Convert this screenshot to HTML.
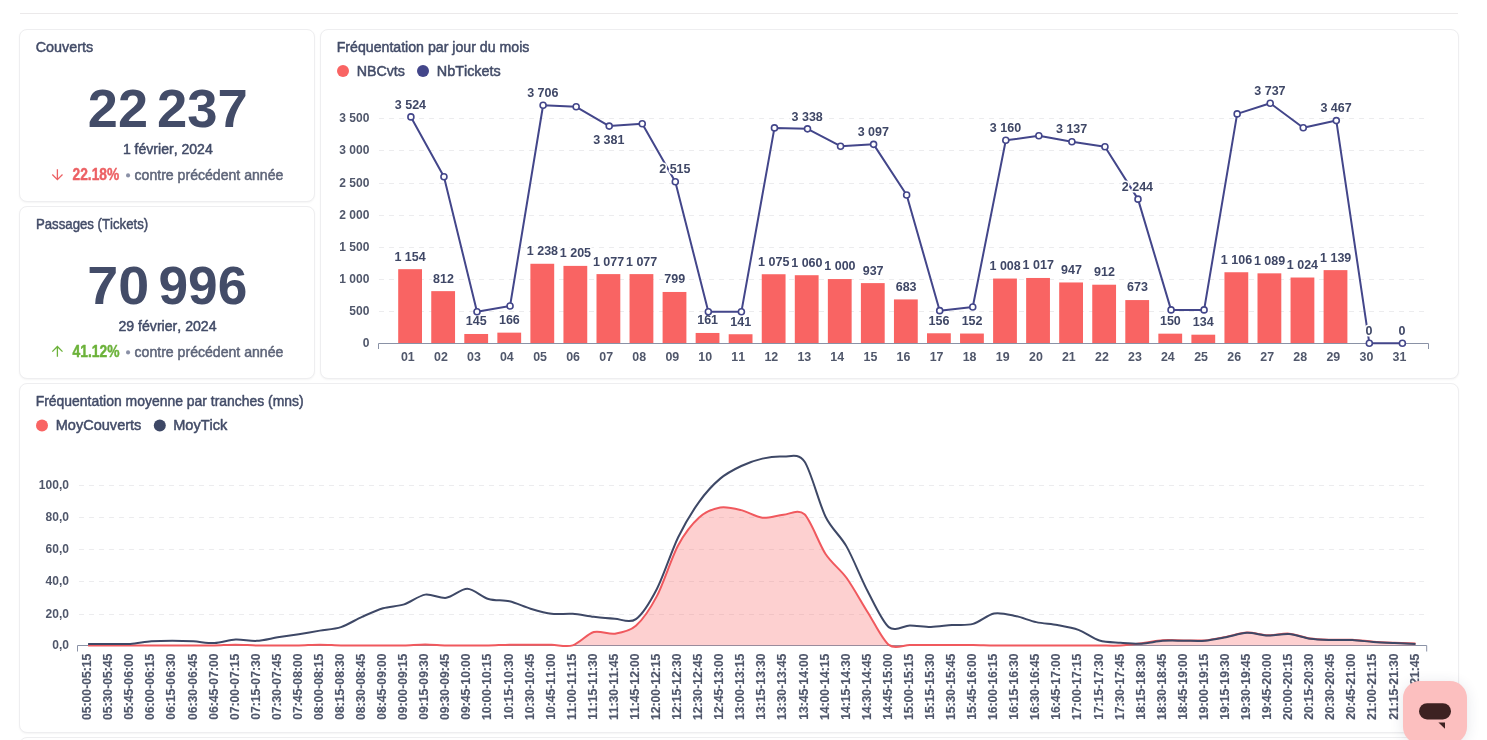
<!DOCTYPE html>
<html><head><meta charset="utf-8">
<style>
html,body{margin:0;padding:0;}
body{width:1487px;height:740px;overflow:hidden;background:#fff;position:relative;font-family:"Liberation Sans",sans-serif;}
.hdr{position:absolute;left:20px;top:13px;width:1438px;height:1px;background:#EBE9EA;}
.card{position:absolute;box-sizing:border-box;background:#fff;border:1px solid #EEEEF0;border-radius:8px;box-shadow:0 1px 2px rgba(0,0,0,0.045);}
svg{position:absolute;left:0;top:0;will-change:transform;}
svg text{font-family:"Liberation Sans",sans-serif;font-kerning:none;}
.dl{stroke:#fff;stroke-width:3px;paint-order:stroke;stroke-linejoin:round;}
.chat{position:absolute;left:1403px;top:681px;width:64px;height:63px;border-radius:17px;background:#FCBFBF;box-shadow:0 2px 14px rgba(40,50,80,0.12);}
</style></head><body>
<div class="hdr"></div>
<div class="card" style="left:19px;top:29px;width:296px;height:173px;"></div>
<div class="card" style="left:19px;top:206px;width:296px;height:173px;"></div>
<div class="card" style="left:320px;top:29px;width:1139px;height:350px;"></div>
<div class="card" style="left:19px;top:383px;width:1440px;height:350px;"></div>
<div class="card" style="left:19px;top:737px;width:1440px;height:350px;"></div>
<svg width="1487" height="740" viewBox="0 0 1487 740">
<text x="87.83" y="126.90" font-size="53.9" textLength="60.14" lengthAdjust="spacingAndGlyphs" font-weight="bold" fill="#434C68">22</text>
<text x="156.91" y="126.90" font-size="53.9" textLength="90.78" lengthAdjust="spacingAndGlyphs" font-weight="bold" fill="#434C68">237</text>
<text x="122.88" y="153.60" font-size="14.2" textLength="89.88" lengthAdjust="spacingAndGlyphs" font-weight="normal" fill="#434C68" stroke="#434C68" stroke-width="0.5" stroke-linejoin="round">1 février, 2024</text>
<path d="M57.4,169.3 V179.5 M52.3,174.5 L57.4,179.6 L62.5,174.5" fill="none" stroke="#EC6164" stroke-width="1.3"/>
<text x="72.55" y="179.80" font-size="15.8" textLength="46.69" lengthAdjust="spacingAndGlyphs" font-weight="bold" fill="#EC6164" stroke="#EC6164" stroke-width="0.45" stroke-linejoin="round">22.18%</text>
<circle cx="128.05" cy="175.4" r="2.05" fill="#8A90A6"/>
<text x="134.55" y="179.80" font-size="14.2" textLength="148.82" lengthAdjust="spacingAndGlyphs" font-weight="normal" fill="#5E6579" stroke="#5E6579" stroke-width="0.5" stroke-linejoin="round">contre précédent année</text>
<text x="87.31" y="303.90" font-size="53.9" textLength="61.87" lengthAdjust="spacingAndGlyphs" font-weight="bold" fill="#434C68">70</text>
<text x="158.46" y="303.90" font-size="53.9" textLength="88.77" lengthAdjust="spacingAndGlyphs" font-weight="bold" fill="#434C68">996</text>
<text x="118.44" y="330.60" font-size="14.2" textLength="98.12" lengthAdjust="spacingAndGlyphs" font-weight="normal" fill="#434C68" stroke="#434C68" stroke-width="0.5" stroke-linejoin="round">29 février, 2024</text>
<path d="M57.4,356.8 V346.6 M52.3,351.6 L57.4,346.5 L62.5,351.6" fill="none" stroke="#6CB23A" stroke-width="1.3"/>
<text x="72.52" y="356.80" font-size="15.8" textLength="46.92" lengthAdjust="spacingAndGlyphs" font-weight="bold" fill="#6CB23A" stroke="#6CB23A" stroke-width="0.45" stroke-linejoin="round">41.12%</text>
<circle cx="128.05" cy="352.4" r="2.05" fill="#8A90A6"/>
<text x="134.55" y="356.80" font-size="14.2" textLength="148.82" lengthAdjust="spacingAndGlyphs" font-weight="normal" fill="#5E6579" stroke="#5E6579" stroke-width="0.5" stroke-linejoin="round">contre précédent année</text>
<text x="35.72" y="51.60" font-size="15.1" textLength="57.45" lengthAdjust="spacingAndGlyphs" font-weight="normal" fill="#434C68" stroke="#434C68" stroke-width="0.5" stroke-linejoin="round">Couverts</text>
<text x="35.97" y="228.60" font-size="15.1" textLength="112.20" lengthAdjust="spacingAndGlyphs" font-weight="normal" fill="#434C68" stroke="#434C68" stroke-width="0.5" stroke-linejoin="round">Passages (Tickets)</text>
<text x="336.69" y="52.00" font-size="15.1" textLength="192.67" lengthAdjust="spacingAndGlyphs" font-weight="normal" fill="#434C68" stroke="#434C68" stroke-width="0.5" stroke-linejoin="round">Fréquentation par jour du mois</text>
<text x="35.71" y="406.00" font-size="15.1" textLength="268.01" lengthAdjust="spacingAndGlyphs" font-weight="normal" fill="#434C68" stroke="#434C68" stroke-width="0.5" stroke-linejoin="round">Fréquentation moyenne par tranches (mns)</text>
<circle cx="343" cy="70.9" r="6" fill="#F96463"/>
<text x="356.68" y="76.40" font-size="14.6" textLength="48.28" lengthAdjust="spacingAndGlyphs" font-weight="normal" fill="#434C68" stroke="#434C68" stroke-width="0.5" stroke-linejoin="round">NBCvts</text>
<circle cx="423" cy="70.9" r="6" fill="#43468A"/>
<text x="436.77" y="76.40" font-size="14.6" textLength="64.00" lengthAdjust="spacingAndGlyphs" font-weight="normal" fill="#434C68" stroke="#434C68" stroke-width="0.5" stroke-linejoin="round">NbTickets</text>
<circle cx="42" cy="425.4" r="6" fill="#F96463"/>
<text x="55.76" y="430.30" font-size="14.6" textLength="85.62" lengthAdjust="spacingAndGlyphs" font-weight="normal" fill="#434C68" stroke="#434C68" stroke-width="0.5" stroke-linejoin="round">MoyCouverts</text>
<circle cx="159.8" cy="425.4" r="6" fill="#3E4866"/>
<text x="173.15" y="430.30" font-size="14.6" textLength="54.27" lengthAdjust="spacingAndGlyphs" font-weight="normal" fill="#434C68" stroke="#434C68" stroke-width="0.5" stroke-linejoin="round">MoyTick</text>
<line x1="379" x2="1425" y1="311.5" y2="311.5" stroke="#ECECEE" stroke-width="1" stroke-dasharray="5 5"/>
<line x1="379" x2="1425" y1="279.5" y2="279.5" stroke="#ECECEE" stroke-width="1" stroke-dasharray="5 5"/>
<line x1="379" x2="1425" y1="247.5" y2="247.5" stroke="#ECECEE" stroke-width="1" stroke-dasharray="5 5"/>
<line x1="379" x2="1425" y1="215.5" y2="215.5" stroke="#ECECEE" stroke-width="1" stroke-dasharray="5 5"/>
<line x1="379" x2="1425" y1="183.5" y2="183.5" stroke="#ECECEE" stroke-width="1" stroke-dasharray="5 5"/>
<line x1="379" x2="1425" y1="150.5" y2="150.5" stroke="#ECECEE" stroke-width="1" stroke-dasharray="5 5"/>
<line x1="379" x2="1425" y1="118.5" y2="118.5" stroke="#ECECEE" stroke-width="1" stroke-dasharray="5 5"/>
<text x="362.72" y="346.80" font-size="12" font-weight="bold" fill="#50576B">0</text>
<text x="349.37" y="314.80" font-size="12" font-weight="bold" fill="#50576B">500</text>
<text x="339.36" y="282.80" font-size="12" font-weight="bold" fill="#50576B">1 000</text>
<text x="339.36" y="250.80" font-size="12" font-weight="bold" fill="#50576B">1 500</text>
<text x="339.36" y="218.80" font-size="12" font-weight="bold" fill="#50576B">2 000</text>
<text x="339.36" y="186.80" font-size="12" font-weight="bold" fill="#50576B">2 500</text>
<text x="339.36" y="153.80" font-size="12" font-weight="bold" fill="#50576B">3 000</text>
<text x="339.36" y="121.80" font-size="12" font-weight="bold" fill="#50576B">3 500</text>
<rect x="398.2" y="269.17" width="23.8" height="73.83" fill="#F96463"/>
<rect x="431.25" y="291.14" width="23.8" height="51.86" fill="#F96463"/>
<rect x="464.3" y="333.99" width="23.8" height="9.01" fill="#F96463"/>
<rect x="497.35" y="332.64" width="23.8" height="10.36" fill="#F96463"/>
<rect x="530.4" y="263.77" width="23.8" height="79.23" fill="#F96463"/>
<rect x="563.45" y="265.89" width="23.8" height="77.11" fill="#F96463"/>
<rect x="596.5" y="274.11" width="23.8" height="68.89" fill="#F96463"/>
<rect x="629.55" y="274.11" width="23.8" height="68.89" fill="#F96463"/>
<rect x="662.6" y="291.97" width="23.8" height="51.03" fill="#F96463"/>
<rect x="695.65" y="332.96" width="23.8" height="10.04" fill="#F96463"/>
<rect x="728.7" y="334.24" width="23.8" height="8.76" fill="#F96463"/>
<rect x="761.75" y="274.24" width="23.8" height="68.76" fill="#F96463"/>
<rect x="794.8" y="275.21" width="23.8" height="67.79" fill="#F96463"/>
<rect x="827.85" y="279.06" width="23.8" height="63.94" fill="#F96463"/>
<rect x="860.9" y="283.11" width="23.8" height="59.89" fill="#F96463"/>
<rect x="893.95" y="299.42" width="23.8" height="43.58" fill="#F96463"/>
<rect x="927" y="333.28" width="23.8" height="9.72" fill="#F96463"/>
<rect x="960.05" y="333.54" width="23.8" height="9.46" fill="#F96463"/>
<rect x="993.1" y="278.55" width="23.8" height="64.45" fill="#F96463"/>
<rect x="1026.15" y="277.97" width="23.8" height="65.03" fill="#F96463"/>
<rect x="1059.2" y="282.46" width="23.8" height="60.54" fill="#F96463"/>
<rect x="1092.25" y="284.71" width="23.8" height="58.29" fill="#F96463"/>
<rect x="1125.3" y="300.07" width="23.8" height="42.93" fill="#F96463"/>
<rect x="1158.35" y="333.66" width="23.8" height="9.34" fill="#F96463"/>
<rect x="1191.4" y="334.69" width="23.8" height="8.31" fill="#F96463"/>
<rect x="1224.45" y="272.25" width="23.8" height="70.75" fill="#F96463"/>
<rect x="1257.5" y="273.34" width="23.8" height="69.66" fill="#F96463"/>
<rect x="1290.55" y="277.52" width="23.8" height="65.48" fill="#F96463"/>
<rect x="1323.6" y="270.13" width="23.8" height="72.87" fill="#F96463"/>
<path d="M378.5,349 V343.5 H1428.5 V349" fill="none" stroke="#8A92A6" stroke-width="1"/>
<text x="400.93" y="360.80" font-size="12.4" font-weight="bold" fill="#50576B">01</text>
<text x="434.06" y="360.80" font-size="12.4" font-weight="bold" fill="#50576B">02</text>
<text x="467.08" y="360.80" font-size="12.4" font-weight="bold" fill="#50576B">03</text>
<text x="499.94" y="360.80" font-size="12.4" font-weight="bold" fill="#50576B">04</text>
<text x="533.13" y="360.80" font-size="12.4" font-weight="bold" fill="#50576B">05</text>
<text x="566.23" y="360.80" font-size="12.4" font-weight="bold" fill="#50576B">06</text>
<text x="599.33" y="360.80" font-size="12.4" font-weight="bold" fill="#50576B">07</text>
<text x="632.30" y="360.80" font-size="12.4" font-weight="bold" fill="#50576B">08</text>
<text x="665.39" y="360.80" font-size="12.4" font-weight="bold" fill="#50576B">09</text>
<text x="698.32" y="360.80" font-size="12.4" font-weight="bold" fill="#50576B">10</text>
<text x="731.29" y="360.80" font-size="12.4" font-weight="bold" fill="#50576B">11</text>
<text x="764.41" y="360.80" font-size="12.4" font-weight="bold" fill="#50576B">12</text>
<text x="797.44" y="360.80" font-size="12.4" font-weight="bold" fill="#50576B">13</text>
<text x="830.30" y="360.80" font-size="12.4" font-weight="bold" fill="#50576B">14</text>
<text x="863.49" y="360.80" font-size="12.4" font-weight="bold" fill="#50576B">15</text>
<text x="896.59" y="360.80" font-size="12.4" font-weight="bold" fill="#50576B">16</text>
<text x="929.69" y="360.80" font-size="12.4" font-weight="bold" fill="#50576B">17</text>
<text x="962.65" y="360.80" font-size="12.4" font-weight="bold" fill="#50576B">18</text>
<text x="995.74" y="360.80" font-size="12.4" font-weight="bold" fill="#50576B">19</text>
<text x="1028.99" y="360.80" font-size="12.4" font-weight="bold" fill="#50576B">20</text>
<text x="1061.96" y="360.80" font-size="12.4" font-weight="bold" fill="#50576B">21</text>
<text x="1095.09" y="360.80" font-size="12.4" font-weight="bold" fill="#50576B">22</text>
<text x="1128.11" y="360.80" font-size="12.4" font-weight="bold" fill="#50576B">23</text>
<text x="1160.97" y="360.80" font-size="12.4" font-weight="bold" fill="#50576B">24</text>
<text x="1194.16" y="360.80" font-size="12.4" font-weight="bold" fill="#50576B">25</text>
<text x="1227.26" y="360.80" font-size="12.4" font-weight="bold" fill="#50576B">26</text>
<text x="1260.36" y="360.80" font-size="12.4" font-weight="bold" fill="#50576B">27</text>
<text x="1293.33" y="360.80" font-size="12.4" font-weight="bold" fill="#50576B">28</text>
<text x="1326.42" y="360.80" font-size="12.4" font-weight="bold" fill="#50576B">29</text>
<text x="1359.57" y="360.80" font-size="12.4" font-weight="bold" fill="#50576B">30</text>
<text x="1392.53" y="360.80" font-size="12.4" font-weight="bold" fill="#50576B">31</text>
<text x="394.40" y="260.57" font-size="12.5" font-weight="bold" fill="#3F4766" class="dl">1 154</text>
<text x="433.07" y="282.54" font-size="12.5" font-weight="bold" fill="#3F4766" class="dl">812</text>
<text x="465.85" y="325.39" font-size="12.5" font-weight="bold" fill="#3F4766" class="dl">145</text>
<text x="498.95" y="324.04" font-size="12.5" font-weight="bold" fill="#3F4766" class="dl">166</text>
<text x="526.76" y="255.17" font-size="12.5" font-weight="bold" fill="#3F4766" class="dl">1 238</text>
<text x="559.79" y="257.29" font-size="12.5" font-weight="bold" fill="#3F4766" class="dl">1 205</text>
<text x="592.94" y="265.51" font-size="12.5" font-weight="bold" fill="#3F4766" class="dl">1 077</text>
<text x="625.99" y="265.51" font-size="12.5" font-weight="bold" fill="#3F4766" class="dl">1 077</text>
<text x="664.34" y="283.37" font-size="12.5" font-weight="bold" fill="#3F4766" class="dl">799</text>
<text x="697.20" y="324.36" font-size="12.5" font-weight="bold" fill="#3F4766" class="dl">161</text>
<text x="730.25" y="325.64" font-size="12.5" font-weight="bold" fill="#3F4766" class="dl">141</text>
<text x="758.09" y="265.64" font-size="12.5" font-weight="bold" fill="#3F4766" class="dl">1 075</text>
<text x="791.22" y="266.61" font-size="12.5" font-weight="bold" fill="#3F4766" class="dl">1 060</text>
<text x="824.27" y="270.46" font-size="12.5" font-weight="bold" fill="#3F4766" class="dl">1 000</text>
<text x="862.73" y="274.51" font-size="12.5" font-weight="bold" fill="#3F4766" class="dl">937</text>
<text x="895.72" y="290.82" font-size="12.5" font-weight="bold" fill="#3F4766" class="dl">683</text>
<text x="928.60" y="324.68" font-size="12.5" font-weight="bold" fill="#3F4766" class="dl">156</text>
<text x="961.68" y="324.94" font-size="12.5" font-weight="bold" fill="#3F4766" class="dl">152</text>
<text x="989.46" y="269.95" font-size="12.5" font-weight="bold" fill="#3F4766" class="dl">1 008</text>
<text x="1022.59" y="269.37" font-size="12.5" font-weight="bold" fill="#3F4766" class="dl">1 017</text>
<text x="1061.03" y="273.86" font-size="12.5" font-weight="bold" fill="#3F4766" class="dl">947</text>
<text x="1094.06" y="276.11" font-size="12.5" font-weight="bold" fill="#3F4766" class="dl">912</text>
<text x="1127.07" y="291.47" font-size="12.5" font-weight="bold" fill="#3F4766" class="dl">673</text>
<text x="1159.98" y="325.06" font-size="12.5" font-weight="bold" fill="#3F4766" class="dl">150</text>
<text x="1192.81" y="326.09" font-size="12.5" font-weight="bold" fill="#3F4766" class="dl">134</text>
<text x="1220.84" y="263.65" font-size="12.5" font-weight="bold" fill="#3F4766" class="dl">1 106</text>
<text x="1253.90" y="264.74" font-size="12.5" font-weight="bold" fill="#3F4766" class="dl">1 089</text>
<text x="1286.75" y="268.92" font-size="12.5" font-weight="bold" fill="#3F4766" class="dl">1 024</text>
<text x="1320.00" y="261.53" font-size="12.5" font-weight="bold" fill="#3F4766" class="dl">1 139</text>
<polyline points="410.9,116.92 443.95,176.79 477,311.69 510.05,305.98 543.1,105.23 576.15,106.77 609.2,126.1 642.25,123.79 675.3,181.74 708.35,311.69 741.4,311.69 774.45,127.9 807.5,128.87 840.55,146.21 873.6,144.35 906.65,195.03 939.7,310.67 972.75,307 1005.8,140.3 1038.85,135.8 1071.9,141.78 1104.95,146.79 1138,199.15 1171.05,309.9 1204.1,309.9 1237.15,113.9 1270.2,103.24 1303.25,127.77 1336.3,120.58 1369.35,343.3 1402.4,343.3" fill="none" stroke="#43468A" stroke-width="2" stroke-linejoin="round"/>
<circle cx="410.9" cy="116.92" r="3" fill="#fff" stroke="#43468A" stroke-width="1.6"/>
<circle cx="443.95" cy="176.79" r="3" fill="#fff" stroke="#43468A" stroke-width="1.6"/>
<circle cx="477" cy="311.69" r="3" fill="#fff" stroke="#43468A" stroke-width="1.6"/>
<circle cx="510.05" cy="305.98" r="3" fill="#fff" stroke="#43468A" stroke-width="1.6"/>
<circle cx="543.1" cy="105.23" r="3" fill="#fff" stroke="#43468A" stroke-width="1.6"/>
<circle cx="576.15" cy="106.77" r="3" fill="#fff" stroke="#43468A" stroke-width="1.6"/>
<circle cx="609.2" cy="126.1" r="3" fill="#fff" stroke="#43468A" stroke-width="1.6"/>
<circle cx="642.25" cy="123.79" r="3" fill="#fff" stroke="#43468A" stroke-width="1.6"/>
<circle cx="675.3" cy="181.74" r="3" fill="#fff" stroke="#43468A" stroke-width="1.6"/>
<circle cx="708.35" cy="311.69" r="3" fill="#fff" stroke="#43468A" stroke-width="1.6"/>
<circle cx="741.4" cy="311.69" r="3" fill="#fff" stroke="#43468A" stroke-width="1.6"/>
<circle cx="774.45" cy="127.9" r="3" fill="#fff" stroke="#43468A" stroke-width="1.6"/>
<circle cx="807.5" cy="128.87" r="3" fill="#fff" stroke="#43468A" stroke-width="1.6"/>
<circle cx="840.55" cy="146.21" r="3" fill="#fff" stroke="#43468A" stroke-width="1.6"/>
<circle cx="873.6" cy="144.35" r="3" fill="#fff" stroke="#43468A" stroke-width="1.6"/>
<circle cx="906.65" cy="195.03" r="3" fill="#fff" stroke="#43468A" stroke-width="1.6"/>
<circle cx="939.7" cy="310.67" r="3" fill="#fff" stroke="#43468A" stroke-width="1.6"/>
<circle cx="972.75" cy="307" r="3" fill="#fff" stroke="#43468A" stroke-width="1.6"/>
<circle cx="1005.8" cy="140.3" r="3" fill="#fff" stroke="#43468A" stroke-width="1.6"/>
<circle cx="1038.85" cy="135.8" r="3" fill="#fff" stroke="#43468A" stroke-width="1.6"/>
<circle cx="1071.9" cy="141.78" r="3" fill="#fff" stroke="#43468A" stroke-width="1.6"/>
<circle cx="1104.95" cy="146.79" r="3" fill="#fff" stroke="#43468A" stroke-width="1.6"/>
<circle cx="1138" cy="199.15" r="3" fill="#fff" stroke="#43468A" stroke-width="1.6"/>
<circle cx="1171.05" cy="309.9" r="3" fill="#fff" stroke="#43468A" stroke-width="1.6"/>
<circle cx="1204.1" cy="309.9" r="3" fill="#fff" stroke="#43468A" stroke-width="1.6"/>
<circle cx="1237.15" cy="113.9" r="3" fill="#fff" stroke="#43468A" stroke-width="1.6"/>
<circle cx="1270.2" cy="103.24" r="3" fill="#fff" stroke="#43468A" stroke-width="1.6"/>
<circle cx="1303.25" cy="127.77" r="3" fill="#fff" stroke="#43468A" stroke-width="1.6"/>
<circle cx="1336.3" cy="120.58" r="3" fill="#fff" stroke="#43468A" stroke-width="1.6"/>
<circle cx="1369.35" cy="343.3" r="3" fill="#fff" stroke="#43468A" stroke-width="1.6"/>
<circle cx="1402.4" cy="343.3" r="3" fill="#fff" stroke="#43468A" stroke-width="1.6"/>
<text x="394.75" y="108.62" font-size="12.5" font-weight="bold" fill="#3F4766" class="dl">3 524</text>
<text x="527.14" y="96.93" font-size="12.5" font-weight="bold" fill="#3F4766" class="dl">3 706</text>
<text x="593.19" y="143.70" font-size="12.5" font-weight="bold" fill="#3F4766" class="dl">3 381</text>
<text x="659.22" y="173.44" font-size="12.5" font-weight="bold" fill="#3F4766" class="dl">2 515</text>
<text x="791.51" y="120.57" font-size="12.5" font-weight="bold" fill="#3F4766" class="dl">3 338</text>
<text x="857.69" y="136.05" font-size="12.5" font-weight="bold" fill="#3F4766" class="dl">3 097</text>
<text x="989.87" y="132.00" font-size="12.5" font-weight="bold" fill="#3F4766" class="dl">3 160</text>
<text x="1055.99" y="133.48" font-size="12.5" font-weight="bold" fill="#3F4766" class="dl">3 137</text>
<text x="1121.78" y="190.85" font-size="12.5" font-weight="bold" fill="#3F4766" class="dl">2 244</text>
<text x="1254.29" y="94.94" font-size="12.5" font-weight="bold" fill="#3F4766" class="dl">3 737</text>
<text x="1320.39" y="112.28" font-size="12.5" font-weight="bold" fill="#3F4766" class="dl">3 467</text>
<text x="1365.48" y="335.00" font-size="12.5" font-weight="bold" fill="#3F4766" class="dl">0</text>
<text x="1398.53" y="335.00" font-size="12.5" font-weight="bold" fill="#3F4766" class="dl">0</text>
<line x1="79" x2="1425" y1="614.5" y2="614.5" stroke="#ECECEE" stroke-width="1" stroke-dasharray="5 5"/>
<line x1="79" x2="1425" y1="581.5" y2="581.5" stroke="#ECECEE" stroke-width="1" stroke-dasharray="5 5"/>
<line x1="79" x2="1425" y1="549.5" y2="549.5" stroke="#ECECEE" stroke-width="1" stroke-dasharray="5 5"/>
<line x1="79" x2="1425" y1="517.5" y2="517.5" stroke="#ECECEE" stroke-width="1" stroke-dasharray="5 5"/>
<line x1="79" x2="1425" y1="485.5" y2="485.5" stroke="#ECECEE" stroke-width="1" stroke-dasharray="5 5"/>
<text x="52.21" y="648.80" font-size="12" font-weight="bold" fill="#50576B">0,0</text>
<text x="45.54" y="617.80" font-size="12" font-weight="bold" fill="#50576B">20,0</text>
<text x="45.54" y="584.80" font-size="12" font-weight="bold" fill="#50576B">40,0</text>
<text x="45.54" y="552.80" font-size="12" font-weight="bold" fill="#50576B">60,0</text>
<text x="45.54" y="520.80" font-size="12" font-weight="bold" fill="#50576B">80,0</text>
<text x="38.86" y="488.80" font-size="12" font-weight="bold" fill="#50576B">100,0</text>
<path d="M77.5,651.5 V645.5 H1426.7 V651.5" fill="none" stroke="#8A92A6" stroke-width="1"/>
<path d="M88.1,645.5 Q104.96,645.5 109.17,645.5 C115.49,645.5 123.92,645.5 130.24,645.5 S144.99,645.5 151.31,645.5 S166.06,645.5 172.38,645.5 S187.13,645.5 193.45,645.5 S208.2,645.62 214.52,645.5 S229.27,644.7 235.59,644.7 S250.34,645.38 256.66,645.5 S271.41,645.5 277.73,645.5 S292.48,645.62 298.8,645.5 S313.55,644.7 319.87,644.7 S334.62,645.38 340.94,645.5 S355.69,645.5 362.01,645.5 S376.76,645.5 383.08,645.5 S397.83,645.64 404.15,645.5 S418.9,644.54 425.22,644.54 S439.97,645.36 446.29,645.5 S461.04,645.5 467.36,645.5 S482.11,645.62 488.43,645.5 S503.18,644.8 509.5,644.7 S524.25,644.84 530.57,644.86 S545.32,644.79 551.64,644.86 S566.39,647.26 572.71,645.34 S587.46,633.81 593.78,632.06 S608.53,634.6 614.85,633.66 S629.6,631.48 635.92,625.82 S650.67,607.95 656.99,595.9 S671.74,557.26 678.06,545.5 S692.81,523.19 699.13,517.5 S713.88,508.68 720.2,507.58 S734.95,508.63 741.27,510.14 S756.02,516.96 762.34,517.66 S777.09,515.28 783.41,514.78 S798.16,508.42 804.48,514.3 S819.23,544.43 825.55,553.98 S840.3,569.24 846.62,577.98 S861.37,602.19 867.69,612.22 S882.44,639.94 888.76,644.86 S903.51,645 909.83,645.02 S924.58,645.02 930.9,645.02 S945.65,645.02 951.97,645.02 S966.72,644.95 973.04,645.02 S987.79,645.43 994.11,645.5 S1008.86,645.5 1015.18,645.5 S1029.93,645.5 1036.25,645.5 S1051,645.5 1057.32,645.5 S1072.07,645.5 1078.39,645.5 S1093.14,645.5 1099.46,645.5 S1114.21,645.84 1120.53,645.5 S1135.28,644.05 1141.6,643.26 S1156.35,640.65 1162.67,640.22 S1177.42,640.36 1183.74,640.38 S1198.49,640.91 1204.81,640.38 S1219.56,638.04 1225.88,636.86 S1240.63,632.78 1246.95,632.54 S1261.7,635.09 1268.02,635.26 S1282.77,633.17 1289.09,633.66 S1303.84,637.63 1310.16,638.54 S1324.91,639.56 1331.23,639.74 S1345.98,639.45 1352.3,639.74 S1367.05,641.2 1373.37,641.66 S1388.12,642.49 1394.44,642.78 Q1398.65,642.97 1415.51,643.58 L1415.51,645.5 L88.1,645.5 Z" fill="rgba(249,100,99,0.30)"/>
<path d="M88.1,645.5 Q104.96,645.5 109.17,645.5 C115.49,645.5 123.92,645.5 130.24,645.5 S144.99,645.5 151.31,645.5 S166.06,645.5 172.38,645.5 S187.13,645.5 193.45,645.5 S208.2,645.62 214.52,645.5 S229.27,644.7 235.59,644.7 S250.34,645.38 256.66,645.5 S271.41,645.5 277.73,645.5 S292.48,645.62 298.8,645.5 S313.55,644.7 319.87,644.7 S334.62,645.38 340.94,645.5 S355.69,645.5 362.01,645.5 S376.76,645.5 383.08,645.5 S397.83,645.64 404.15,645.5 S418.9,644.54 425.22,644.54 S439.97,645.36 446.29,645.5 S461.04,645.5 467.36,645.5 S482.11,645.62 488.43,645.5 S503.18,644.8 509.5,644.7 S524.25,644.84 530.57,644.86 S545.32,644.79 551.64,644.86 S566.39,647.26 572.71,645.34 S587.46,633.81 593.78,632.06 S608.53,634.6 614.85,633.66 S629.6,631.48 635.92,625.82 S650.67,607.95 656.99,595.9 S671.74,557.26 678.06,545.5 S692.81,523.19 699.13,517.5 S713.88,508.68 720.2,507.58 S734.95,508.63 741.27,510.14 S756.02,516.96 762.34,517.66 S777.09,515.28 783.41,514.78 S798.16,508.42 804.48,514.3 S819.23,544.43 825.55,553.98 S840.3,569.24 846.62,577.98 S861.37,602.19 867.69,612.22 S882.44,639.94 888.76,644.86 S903.51,645 909.83,645.02 S924.58,645.02 930.9,645.02 S945.65,645.02 951.97,645.02 S966.72,644.95 973.04,645.02 S987.79,645.43 994.11,645.5 S1008.86,645.5 1015.18,645.5 S1029.93,645.5 1036.25,645.5 S1051,645.5 1057.32,645.5 S1072.07,645.5 1078.39,645.5 S1093.14,645.5 1099.46,645.5 S1114.21,645.84 1120.53,645.5 S1135.28,644.05 1141.6,643.26 S1156.35,640.65 1162.67,640.22 S1177.42,640.36 1183.74,640.38 S1198.49,640.91 1204.81,640.38 S1219.56,638.04 1225.88,636.86 S1240.63,632.78 1246.95,632.54 S1261.7,635.09 1268.02,635.26 S1282.77,633.17 1289.09,633.66 S1303.84,637.63 1310.16,638.54 S1324.91,639.56 1331.23,639.74 S1345.98,639.45 1352.3,639.74 S1367.05,641.2 1373.37,641.66 S1388.12,642.49 1394.44,642.78 Q1398.65,642.97 1415.51,643.58" fill="none" stroke="#F0595E" stroke-width="2" stroke-linejoin="round"/>
<path d="M88.1,643.9 Q104.96,643.9 109.17,643.9 C115.49,643.9 123.92,644.28 130.24,643.9 S144.99,641.82 151.31,641.34 S166.06,640.7 172.38,640.7 S187.13,640.98 193.45,641.34 S208.2,643.36 214.52,643.1 S229.27,639.92 235.59,639.58 S250.34,641.2 256.66,640.86 S271.41,638.35 277.73,637.34 S292.48,635.15 298.8,634.14 S313.55,631.68 319.87,630.62 S334.62,629.16 340.94,627.1 S355.69,619.69 362.01,616.86 S376.76,610.09 383.08,608.22 S397.83,606.42 404.15,604.38 S418.9,595.6 425.22,594.62 S439.97,598.68 446.29,597.82 S461.04,588.69 467.36,588.86 S482.11,597.07 488.43,598.94 S503.18,599.88 509.5,601.34 S524.25,606.83 530.57,608.7 S545.32,613.05 551.64,613.82 S566.39,613.36 572.71,613.82 S587.46,616.12 593.78,616.86 S608.53,618.44 614.85,618.78 S629.6,623.61 635.92,619.1 S650.67,600.94 656.99,588.7 S671.74,550.53 678.06,537.5 S692.81,510.65 699.13,501.82 S713.88,484 720.2,478.62 S734.95,468.98 741.27,465.98 S756.02,460.04 762.34,458.62 S777.09,456.11 783.41,456.54 S798.16,452.48 804.48,461.5 S819.23,503.93 825.55,516.7 S840.3,535.44 846.62,546.62 S861.37,579.19 867.69,591.26 S882.44,621.96 888.76,627.1 S903.51,625.52 909.83,625.5 S924.58,627.01 930.9,626.94 S945.65,625.48 951.97,625.02 S966.72,625.63 973.04,623.9 S987.79,614.7 994.11,613.5 S1008.86,614.6 1015.18,615.9 S1029.93,620.77 1036.25,622.14 S1051,623.87 1057.32,625.02 S1072.07,627.49 1078.39,629.82 S1093.14,638.6 1099.46,640.54 S1114.21,642.3 1120.53,642.78 S1135.28,644.03 1141.6,643.74 S1156.35,641.32 1162.67,640.86 S1177.42,640.72 1183.74,640.7 S1198.49,641.23 1204.81,640.7 S1219.56,638.36 1225.88,637.18 S1240.63,633.1 1246.95,632.86 S1261.7,635.41 1268.02,635.58 S1282.77,633.49 1289.09,633.98 S1303.84,637.95 1310.16,638.86 S1324.91,639.88 1331.23,640.06 S1345.98,639.77 1352.3,640.06 S1367.05,641.52 1373.37,641.98 S1388.12,642.81 1394.44,643.1 Q1398.65,643.29 1415.51,643.9" fill="none" stroke="#3E4866" stroke-width="2" stroke-linejoin="round"/>
<text transform="translate(91.16,720.03) rotate(-90)" x="0" y="0" font-size="12.2" font-weight="bold" fill="#50576B" stroke="#50576B" stroke-width="0.15">05:00-05:15</text>
<text transform="translate(112.23,720.03) rotate(-90)" x="0" y="0" font-size="12.2" font-weight="bold" fill="#50576B" stroke="#50576B" stroke-width="0.15">05:30-05:45</text>
<text transform="translate(133.30,719.87) rotate(-90)" x="0" y="0" font-size="12.2" font-weight="bold" fill="#50576B" stroke="#50576B" stroke-width="0.15">05:45-06:00</text>
<text transform="translate(154.37,720.03) rotate(-90)" x="0" y="0" font-size="12.2" font-weight="bold" fill="#50576B" stroke="#50576B" stroke-width="0.15">06:00-06:15</text>
<text transform="translate(175.44,719.87) rotate(-90)" x="0" y="0" font-size="12.2" font-weight="bold" fill="#50576B" stroke="#50576B" stroke-width="0.15">06:15-06:30</text>
<text transform="translate(196.51,720.03) rotate(-90)" x="0" y="0" font-size="12.2" font-weight="bold" fill="#50576B" stroke="#50576B" stroke-width="0.15">06:30-06:45</text>
<text transform="translate(217.58,719.87) rotate(-90)" x="0" y="0" font-size="12.2" font-weight="bold" fill="#50576B" stroke="#50576B" stroke-width="0.15">06:45-07:00</text>
<text transform="translate(238.65,720.03) rotate(-90)" x="0" y="0" font-size="12.2" font-weight="bold" fill="#50576B" stroke="#50576B" stroke-width="0.15">07:00-07:15</text>
<text transform="translate(259.72,719.87) rotate(-90)" x="0" y="0" font-size="12.2" font-weight="bold" fill="#50576B" stroke="#50576B" stroke-width="0.15">07:15-07:30</text>
<text transform="translate(280.79,720.03) rotate(-90)" x="0" y="0" font-size="12.2" font-weight="bold" fill="#50576B" stroke="#50576B" stroke-width="0.15">07:30-07:45</text>
<text transform="translate(301.86,719.87) rotate(-90)" x="0" y="0" font-size="12.2" font-weight="bold" fill="#50576B" stroke="#50576B" stroke-width="0.15">07:45-08:00</text>
<text transform="translate(322.93,720.03) rotate(-90)" x="0" y="0" font-size="12.2" font-weight="bold" fill="#50576B" stroke="#50576B" stroke-width="0.15">08:00-08:15</text>
<text transform="translate(344.00,719.87) rotate(-90)" x="0" y="0" font-size="12.2" font-weight="bold" fill="#50576B" stroke="#50576B" stroke-width="0.15">08:15-08:30</text>
<text transform="translate(365.07,720.03) rotate(-90)" x="0" y="0" font-size="12.2" font-weight="bold" fill="#50576B" stroke="#50576B" stroke-width="0.15">08:30-08:45</text>
<text transform="translate(386.14,719.87) rotate(-90)" x="0" y="0" font-size="12.2" font-weight="bold" fill="#50576B" stroke="#50576B" stroke-width="0.15">08:45-09:00</text>
<text transform="translate(407.21,720.03) rotate(-90)" x="0" y="0" font-size="12.2" font-weight="bold" fill="#50576B" stroke="#50576B" stroke-width="0.15">09:00-09:15</text>
<text transform="translate(428.28,719.87) rotate(-90)" x="0" y="0" font-size="12.2" font-weight="bold" fill="#50576B" stroke="#50576B" stroke-width="0.15">09:15-09:30</text>
<text transform="translate(449.35,720.03) rotate(-90)" x="0" y="0" font-size="12.2" font-weight="bold" fill="#50576B" stroke="#50576B" stroke-width="0.15">09:30-09:45</text>
<text transform="translate(470.42,719.87) rotate(-90)" x="0" y="0" font-size="12.2" font-weight="bold" fill="#50576B" stroke="#50576B" stroke-width="0.15">09:45-10:00</text>
<text transform="translate(491.49,720.03) rotate(-90)" x="0" y="0" font-size="12.2" font-weight="bold" fill="#50576B" stroke="#50576B" stroke-width="0.15">10:00-10:15</text>
<text transform="translate(512.56,719.87) rotate(-90)" x="0" y="0" font-size="12.2" font-weight="bold" fill="#50576B" stroke="#50576B" stroke-width="0.15">10:15-10:30</text>
<text transform="translate(533.63,720.03) rotate(-90)" x="0" y="0" font-size="12.2" font-weight="bold" fill="#50576B" stroke="#50576B" stroke-width="0.15">10:30-10:45</text>
<text transform="translate(554.70,719.87) rotate(-90)" x="0" y="0" font-size="12.2" font-weight="bold" fill="#50576B" stroke="#50576B" stroke-width="0.15">10:45-11:00</text>
<text transform="translate(575.77,720.03) rotate(-90)" x="0" y="0" font-size="12.2" font-weight="bold" fill="#50576B" stroke="#50576B" stroke-width="0.15">11:00-11:15</text>
<text transform="translate(596.84,719.87) rotate(-90)" x="0" y="0" font-size="12.2" font-weight="bold" fill="#50576B" stroke="#50576B" stroke-width="0.15">11:15-11:30</text>
<text transform="translate(617.91,720.03) rotate(-90)" x="0" y="0" font-size="12.2" font-weight="bold" fill="#50576B" stroke="#50576B" stroke-width="0.15">11:30-11:45</text>
<text transform="translate(638.98,719.87) rotate(-90)" x="0" y="0" font-size="12.2" font-weight="bold" fill="#50576B" stroke="#50576B" stroke-width="0.15">11:45-12:00</text>
<text transform="translate(660.05,720.03) rotate(-90)" x="0" y="0" font-size="12.2" font-weight="bold" fill="#50576B" stroke="#50576B" stroke-width="0.15">12:00-12:15</text>
<text transform="translate(681.12,719.87) rotate(-90)" x="0" y="0" font-size="12.2" font-weight="bold" fill="#50576B" stroke="#50576B" stroke-width="0.15">12:15-12:30</text>
<text transform="translate(702.19,720.03) rotate(-90)" x="0" y="0" font-size="12.2" font-weight="bold" fill="#50576B" stroke="#50576B" stroke-width="0.15">12:30-12:45</text>
<text transform="translate(723.26,719.87) rotate(-90)" x="0" y="0" font-size="12.2" font-weight="bold" fill="#50576B" stroke="#50576B" stroke-width="0.15">12:45-13:00</text>
<text transform="translate(744.33,720.03) rotate(-90)" x="0" y="0" font-size="12.2" font-weight="bold" fill="#50576B" stroke="#50576B" stroke-width="0.15">13:00-13:15</text>
<text transform="translate(765.40,719.87) rotate(-90)" x="0" y="0" font-size="12.2" font-weight="bold" fill="#50576B" stroke="#50576B" stroke-width="0.15">13:15-13:30</text>
<text transform="translate(786.47,720.03) rotate(-90)" x="0" y="0" font-size="12.2" font-weight="bold" fill="#50576B" stroke="#50576B" stroke-width="0.15">13:30-13:45</text>
<text transform="translate(807.54,719.87) rotate(-90)" x="0" y="0" font-size="12.2" font-weight="bold" fill="#50576B" stroke="#50576B" stroke-width="0.15">13:45-14:00</text>
<text transform="translate(828.61,720.03) rotate(-90)" x="0" y="0" font-size="12.2" font-weight="bold" fill="#50576B" stroke="#50576B" stroke-width="0.15">14:00-14:15</text>
<text transform="translate(849.68,719.87) rotate(-90)" x="0" y="0" font-size="12.2" font-weight="bold" fill="#50576B" stroke="#50576B" stroke-width="0.15">14:15-14:30</text>
<text transform="translate(870.75,720.03) rotate(-90)" x="0" y="0" font-size="12.2" font-weight="bold" fill="#50576B" stroke="#50576B" stroke-width="0.15">14:30-14:45</text>
<text transform="translate(891.82,719.87) rotate(-90)" x="0" y="0" font-size="12.2" font-weight="bold" fill="#50576B" stroke="#50576B" stroke-width="0.15">14:45-15:00</text>
<text transform="translate(912.89,720.03) rotate(-90)" x="0" y="0" font-size="12.2" font-weight="bold" fill="#50576B" stroke="#50576B" stroke-width="0.15">15:00-15:15</text>
<text transform="translate(933.96,719.87) rotate(-90)" x="0" y="0" font-size="12.2" font-weight="bold" fill="#50576B" stroke="#50576B" stroke-width="0.15">15:15-15:30</text>
<text transform="translate(955.03,720.03) rotate(-90)" x="0" y="0" font-size="12.2" font-weight="bold" fill="#50576B" stroke="#50576B" stroke-width="0.15">15:30-15:45</text>
<text transform="translate(976.10,719.87) rotate(-90)" x="0" y="0" font-size="12.2" font-weight="bold" fill="#50576B" stroke="#50576B" stroke-width="0.15">15:45-16:00</text>
<text transform="translate(997.17,720.03) rotate(-90)" x="0" y="0" font-size="12.2" font-weight="bold" fill="#50576B" stroke="#50576B" stroke-width="0.15">16:00-16:15</text>
<text transform="translate(1018.24,719.87) rotate(-90)" x="0" y="0" font-size="12.2" font-weight="bold" fill="#50576B" stroke="#50576B" stroke-width="0.15">16:15-16:30</text>
<text transform="translate(1039.31,720.03) rotate(-90)" x="0" y="0" font-size="12.2" font-weight="bold" fill="#50576B" stroke="#50576B" stroke-width="0.15">16:30-16:45</text>
<text transform="translate(1060.38,719.87) rotate(-90)" x="0" y="0" font-size="12.2" font-weight="bold" fill="#50576B" stroke="#50576B" stroke-width="0.15">16:45-17:00</text>
<text transform="translate(1081.45,720.03) rotate(-90)" x="0" y="0" font-size="12.2" font-weight="bold" fill="#50576B" stroke="#50576B" stroke-width="0.15">17:00-17:15</text>
<text transform="translate(1102.52,719.87) rotate(-90)" x="0" y="0" font-size="12.2" font-weight="bold" fill="#50576B" stroke="#50576B" stroke-width="0.15">17:15-17:30</text>
<text transform="translate(1123.59,720.03) rotate(-90)" x="0" y="0" font-size="12.2" font-weight="bold" fill="#50576B" stroke="#50576B" stroke-width="0.15">17:30-17:45</text>
<text transform="translate(1144.66,719.87) rotate(-90)" x="0" y="0" font-size="12.2" font-weight="bold" fill="#50576B" stroke="#50576B" stroke-width="0.15">18:15-18:30</text>
<text transform="translate(1165.73,720.03) rotate(-90)" x="0" y="0" font-size="12.2" font-weight="bold" fill="#50576B" stroke="#50576B" stroke-width="0.15">18:30-18:45</text>
<text transform="translate(1186.80,719.87) rotate(-90)" x="0" y="0" font-size="12.2" font-weight="bold" fill="#50576B" stroke="#50576B" stroke-width="0.15">18:45-19:00</text>
<text transform="translate(1207.87,720.03) rotate(-90)" x="0" y="0" font-size="12.2" font-weight="bold" fill="#50576B" stroke="#50576B" stroke-width="0.15">19:00-19:15</text>
<text transform="translate(1228.94,719.87) rotate(-90)" x="0" y="0" font-size="12.2" font-weight="bold" fill="#50576B" stroke="#50576B" stroke-width="0.15">19:15-19:30</text>
<text transform="translate(1250.01,720.03) rotate(-90)" x="0" y="0" font-size="12.2" font-weight="bold" fill="#50576B" stroke="#50576B" stroke-width="0.15">19:30-19:45</text>
<text transform="translate(1271.08,719.87) rotate(-90)" x="0" y="0" font-size="12.2" font-weight="bold" fill="#50576B" stroke="#50576B" stroke-width="0.15">19:45-20:00</text>
<text transform="translate(1292.15,720.03) rotate(-90)" x="0" y="0" font-size="12.2" font-weight="bold" fill="#50576B" stroke="#50576B" stroke-width="0.15">20:00-20:15</text>
<text transform="translate(1313.22,719.87) rotate(-90)" x="0" y="0" font-size="12.2" font-weight="bold" fill="#50576B" stroke="#50576B" stroke-width="0.15">20:15-20:30</text>
<text transform="translate(1334.29,720.03) rotate(-90)" x="0" y="0" font-size="12.2" font-weight="bold" fill="#50576B" stroke="#50576B" stroke-width="0.15">20:30-20:45</text>
<text transform="translate(1355.36,719.87) rotate(-90)" x="0" y="0" font-size="12.2" font-weight="bold" fill="#50576B" stroke="#50576B" stroke-width="0.15">20:45-21:00</text>
<text transform="translate(1376.43,720.03) rotate(-90)" x="0" y="0" font-size="12.2" font-weight="bold" fill="#50576B" stroke="#50576B" stroke-width="0.15">21:00-21:15</text>
<text transform="translate(1397.50,719.87) rotate(-90)" x="0" y="0" font-size="12.2" font-weight="bold" fill="#50576B" stroke="#50576B" stroke-width="0.15">21:15-21:30</text>
<text transform="translate(1418.57,720.03) rotate(-90)" x="0" y="0" font-size="12.2" font-weight="bold" fill="#50576B" stroke="#50576B" stroke-width="0.15">21:30-21:45</text>
</svg>
<div class="chat"></div>
<svg width="1487" height="740" viewBox="0 0 1487 740">
<rect x="1419" y="703.2" width="32" height="16.3" rx="8.15" fill="#3D2222"/>
<path d="M1438.4,722.4 H1445 V728.8 Z" fill="#3D2222"/>
</svg>
</body></html>
